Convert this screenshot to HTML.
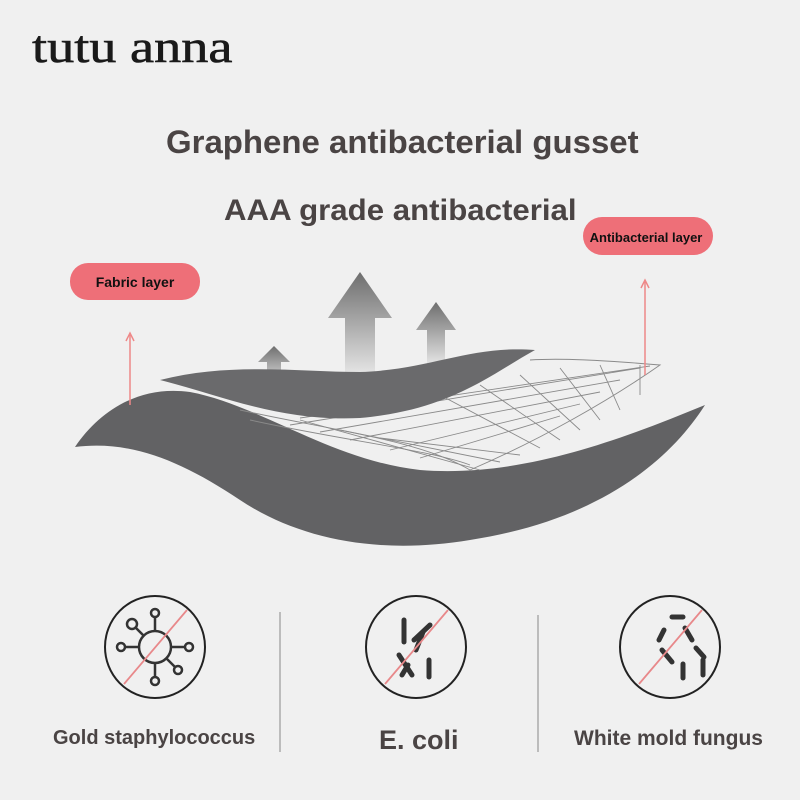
<!DOCTYPE html>
<html><head><style>
body{margin:0;width:800px;height:800px;background:#f0f0f0;overflow:hidden;font-family:"Liberation Sans",sans-serif}
.t{position:absolute;color:#4a4444;font-weight:bold;white-space:nowrap}
</style></head><body>
<svg width="800" height="800" style="position:absolute;left:0;top:0">
<defs>
<linearGradient id="ag" x1="0" y1="0" x2="0" y2="1"><stop offset="0" stop-color="#6e6e6e"/><stop offset="1" stop-color="#e6e6e6"/></linearGradient>
</defs>
<g transform="translate(32,62) scale(1.18,1)">
<text x="0" y="0" font-family="Liberation Serif,serif" font-size="46" fill="#1a1a1a" stroke="#1a1a1a" stroke-width="0.6">tutu anna</text>
</g>
<path d="M328 318 L360 272 L392 318 L375 318 L375 375 L345 375 L345 318 Z" fill="url(#ag)"/>
<path d="M416 330 L436 302 L456 330 L445 330 L445 365 L427 365 L427 330 Z" fill="url(#ag)"/>
<path d="M258 362 L274 346 L290 362 L281 362 L281 385 L267 385 L267 362 Z" fill="url(#ag)"/>
<path d="M75 447 C100 410 140 385 190 392 C260 405 330 460 420 470 C520 478 620 440 705 405 C670 460 600 520 470 540 C380 555 300 540 240 500 C180 460 130 440 75 447 Z" fill="#626264"/>
<g stroke="#8a8a8a" stroke-width="0.9" fill="none">
<path d="M240 410 C330 430 420 440 470 470 C540 440 610 400 660 365 C600 360 560 358 530 360"/>
<path d="M250 420 C340 440 430 450 470 465"/>
<path d="M290 425 L640 368 M320 432 L620 380 M350 440 L600 392 M390 450 L580 404 M420 458 L560 416 M300 418 L650 366"/>
<path d="M300 420 L480 470 M340 430 L500 462 M380 438 L520 455 M440 395 L540 448 M480 385 L560 440 M520 375 L580 430 M560 368 L600 420 M600 365 L620 410 M640 365 L640 395"/>
</g>
<path d="M160 380 C230 362 300 372 360 372 C430 370 470 345 535 350 C490 375 450 410 360 418 C280 422 220 395 160 380 Z" fill="#6a6a6c"/>
<line x1="130" y1="335" x2="130" y2="405" stroke="#e88" stroke-width="1.5"/>
<path d="M126 341 L130 333 L134 341" fill="none" stroke="#e88" stroke-width="1.5"/>
<line x1="645" y1="282" x2="645" y2="375" stroke="#e88" stroke-width="1.5"/>
<path d="M641 288 L645 280 L649 288" fill="none" stroke="#e88" stroke-width="1.5"/>
<rect x="70" y="263" width="130" height="37" rx="18" fill="#ee6f78"/>
<rect x="583" y="217" width="130" height="38" rx="19" fill="#ee6f78"/>
<text x="135" y="287" font-size="14" font-weight="bold" text-anchor="middle" fill="#111">Fabric layer</text>
<text x="646" y="242" font-size="13" font-weight="bold" text-anchor="middle" fill="#111">Antibacterial layer</text>
<line x1="280" y1="612" x2="280" y2="752" stroke="#888" stroke-width="1"/>
<line x1="538" y1="615" x2="538" y2="752" stroke="#888" stroke-width="1"/>
<g stroke="#222" stroke-width="2" fill="none">
<ellipse cx="155" cy="647" rx="50" ry="51"/>
<ellipse cx="416" cy="647" rx="50" ry="51"/>
<ellipse cx="670" cy="647" rx="50" ry="51"/>
</g>
<g stroke="#333" stroke-width="2.5" fill="none">
<circle cx="155" cy="647" r="16"/>
<line x1="155" y1="631" x2="155" y2="617"/><circle cx="155" cy="613" r="4"/>
<line x1="155" y1="663" x2="155" y2="677"/><circle cx="155" cy="681" r="4"/>
<line x1="139" y1="647" x2="125" y2="647"/><circle cx="121" cy="647" r="4"/>
<line x1="171" y1="647" x2="185" y2="647"/><circle cx="189" cy="647" r="4"/>
<line x1="144" y1="636" x2="135" y2="627"/><circle cx="132" cy="624" r="5"/>
<line x1="166" y1="658" x2="175" y2="667"/><circle cx="178" cy="670" r="4"/>
</g>
<g stroke="#333" stroke-width="5" stroke-linecap="round">
<line x1="404" y1="620" x2="404" y2="642"/><line x1="414" y1="640" x2="430" y2="625"/>
<line x1="399" y1="655" x2="412" y2="675"/><line x1="416" y1="650" x2="423" y2="632"/>
<line x1="429" y1="660" x2="429" y2="677"/><line x1="408" y1="665" x2="402" y2="675"/>
<line x1="672" y1="617" x2="683" y2="617"/><line x1="685" y1="628" x2="692" y2="640"/>
<line x1="696" y1="648" x2="704" y2="657"/><line x1="683" y1="664" x2="683" y2="678"/>
<line x1="703" y1="660" x2="703" y2="675"/><line x1="659" y1="640" x2="664" y2="630"/>
<line x1="662" y1="650" x2="672" y2="662"/>
</g>
<g stroke="#e8888a" stroke-width="1.8">
<line x1="187" y1="610" x2="124" y2="684"/>
<line x1="448" y1="610" x2="385" y2="684"/>
<line x1="702" y1="610" x2="639" y2="684"/>
</g>
</svg>
<div class="t" style="left:166px;top:124px;font-size:32px;transform:scaleX(1.03);transform-origin:left">Graphene antibacterial gusset</div>
<div class="t" style="left:224px;top:194px;font-size:30px;transform:scaleX(1.04);transform-origin:left">AAA grade antibacterial</div>
<div class="t" style="left:53px;top:727px;font-size:20px">Gold staphylococcus</div>
<div class="t" style="left:379px;top:725px;font-size:27px">E. coli</div>
<div class="t" style="left:574px;top:727px;font-size:21px">White mold fungus</div>
</body></html>
